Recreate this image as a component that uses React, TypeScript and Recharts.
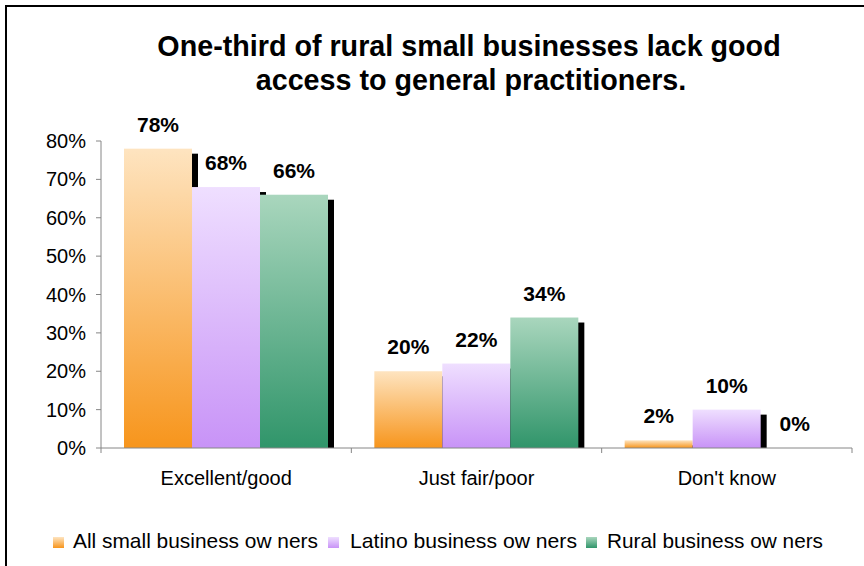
import React from 'react';
import { BarChart, Bar, XAxis, YAxis, LabelList } from 'recharts';

const categories = ['Excellent/good', 'Just fair/poor', "Don't know"];
const allOwners = [78, 20, 2];
const latinoOwners = [68, 22, 10];
const ruralOwners = [66, 34, 0];
const yTicks = [0, 10, 20, 30, 40, 50, 60, 70, 80];
const seriesNames = ['All small business ow ners', 'Latino business ow ners', 'Rural business ow ners'];

const data = categories.map((name, i) => ({
  name,
  all: allOwners[i],
  latino: latinoOwners[i],
  rural: ruralOwners[i],
}));

const FONT = '"Liberation Sans", Arial, sans-serif';
const AXIS_GREY = '#868686';

const GRADIENTS = [
  { id: 'gOrange', top: '#fee4c0', bottom: '#f7951c' },
  { id: 'gPurple', top: '#efdfff', bottom: '#c893f7' },
  { id: 'gGreen', top: '#a9d6bd', bottom: '#30956a' },
];

// legend placement (layout only)
const LEGEND_ICON_X = [53, 328, 586];
const LEGEND_TEXT_X = [73, 350, 607];
const LEGEND_TEXT_W = [245, 227, 216];

const pct = (v: number) => `${v}%`;

function ShadowBar(props: any) {
  const { x, y, width, height, fill } = props;
  if (!height || height <= 0) return null;
  return (
    <g>
      <rect x={x + 6} y={y + 5} width={width} height={Math.max(0, height - 5)} fill="#000" />
      <rect x={x} y={y} width={width} height={height} fill={fill} />
    </g>
  );
}

function CategoryTick(props: any) {
  const { x, y, payload, index, visibleTicksCount } = props;
  const half = payload.offset || 0;
  return (
    <g>
      <line x1={x - half} x2={x - half} y1={y} y2={y + 5} stroke={AXIS_GREY} />
      {index === visibleTicksCount - 1 && (
        <line x1={x + half} x2={x + half} y1={y} y2={y + 5} stroke={AXIS_GREY} />
      )}
      <text x={x} y={y + 37} textAnchor="middle" fontSize={20} fontFamily={FONT} fill="#000">
        {payload.value}
      </text>
    </g>
  );
}

export default function App() {
  return (
    <div
      style={{
        position: 'absolute',
        left: 0,
        top: 0,
        width: 864,
        height: 566,
        overflow: 'hidden',
        background: '#fff',
        fontFamily: FONT,
      }}
    >
      <div
        style={{
          position: 'absolute',
          left: 5,
          top: 5,
          width: 900,
          height: 600,
          border: '2px solid #000',
        }}
      />
      <svg width={864} height={110} style={{ position: 'absolute', left: 0, top: 0 }}>
        <text x={469} y={56} textAnchor="middle" fontSize={28.7} fontWeight="bold" fontFamily={FONT}>
          One-third of rural small businesses lack good
        </text>
        <text x={471} y={90} textAnchor="middle" fontSize={28.7} fontWeight="bold" fontFamily={FONT}>
          access to general practitioners.
        </text>
      </svg>
      <div style={{ position: 'absolute', left: 0, top: 0 }}>
        <BarChart
          width={864}
          height={566}
          data={data}
          margin={{ top: 141, right: 12, bottom: 88, left: 41 }}
          barGap={0}
          barCategoryGap={23}
        >
          <defs>
            {GRADIENTS.map((g) => (
              <linearGradient key={g.id} id={g.id} x1="0" y1="0" x2="0" y2="1">
                <stop offset="0%" stopColor={g.top} />
                <stop offset="100%" stopColor={g.bottom} />
              </linearGradient>
            ))}
          </defs>
          <XAxis
            dataKey="name"
            height={30}
            axisLine={{ stroke: AXIS_GREY }}
            tickLine={false}
            tickSize={0}
            tickMargin={0}
            tick={<CategoryTick />}
            interval={0}
          />
          <YAxis
            width={60}
            domain={[0, 80]}
            ticks={yTicks}
            tickFormatter={pct}
            axisLine={{ stroke: AXIS_GREY }}
            tickLine={{ stroke: AXIS_GREY }}
            tickSize={5}
            tickMargin={10}
            tick={{ fill: '#000', fontSize: 20, fontFamily: FONT }}
          />
          {(['all', 'latino', 'rural'] as const).map((key, i) => (
            <Bar
              key={key}
              dataKey={key}
              name={seriesNames[i]}
              fill={`url(#${GRADIENTS[i].id})`}
              shape={<ShadowBar />}
              isAnimationActive={false}
            >
              <LabelList
                dataKey={key}
                position="top"
                offset={17}
                formatter={pct}
                style={{ fill: '#000', fontSize: 21, fontWeight: 'bold', fontFamily: FONT }}
              />
            </Bar>
          ))}
        </BarChart>
      </div>
      <svg width={864} height={40} style={{ position: 'absolute', left: 0, top: 525 }}>
        <defs>
          {GRADIENTS.map((g) => (
            <linearGradient key={g.id} id={`${g.id}L`} x1="0" y1="0" x2="0" y2="1">
              <stop offset="0%" stopColor={g.top} />
              <stop offset="100%" stopColor={g.bottom} />
            </linearGradient>
          ))}
        </defs>
        {seriesNames.map((name, i) => (
          <g key={name}>
            <rect x={LEGEND_ICON_X[i]} y={12} width={11} height={11} fill={`url(#${GRADIENTS[i].id}L)`} />
            <text
              x={LEGEND_TEXT_X[i]}
              y={23}
              fontSize={21}
              fontFamily={FONT}
              fill="#000"
              textLength={LEGEND_TEXT_W[i]}
              lengthAdjust="spacingAndGlyphs"
            >
              {name}
            </text>
          </g>
        ))}
      </svg>
    </div>
  );
}
